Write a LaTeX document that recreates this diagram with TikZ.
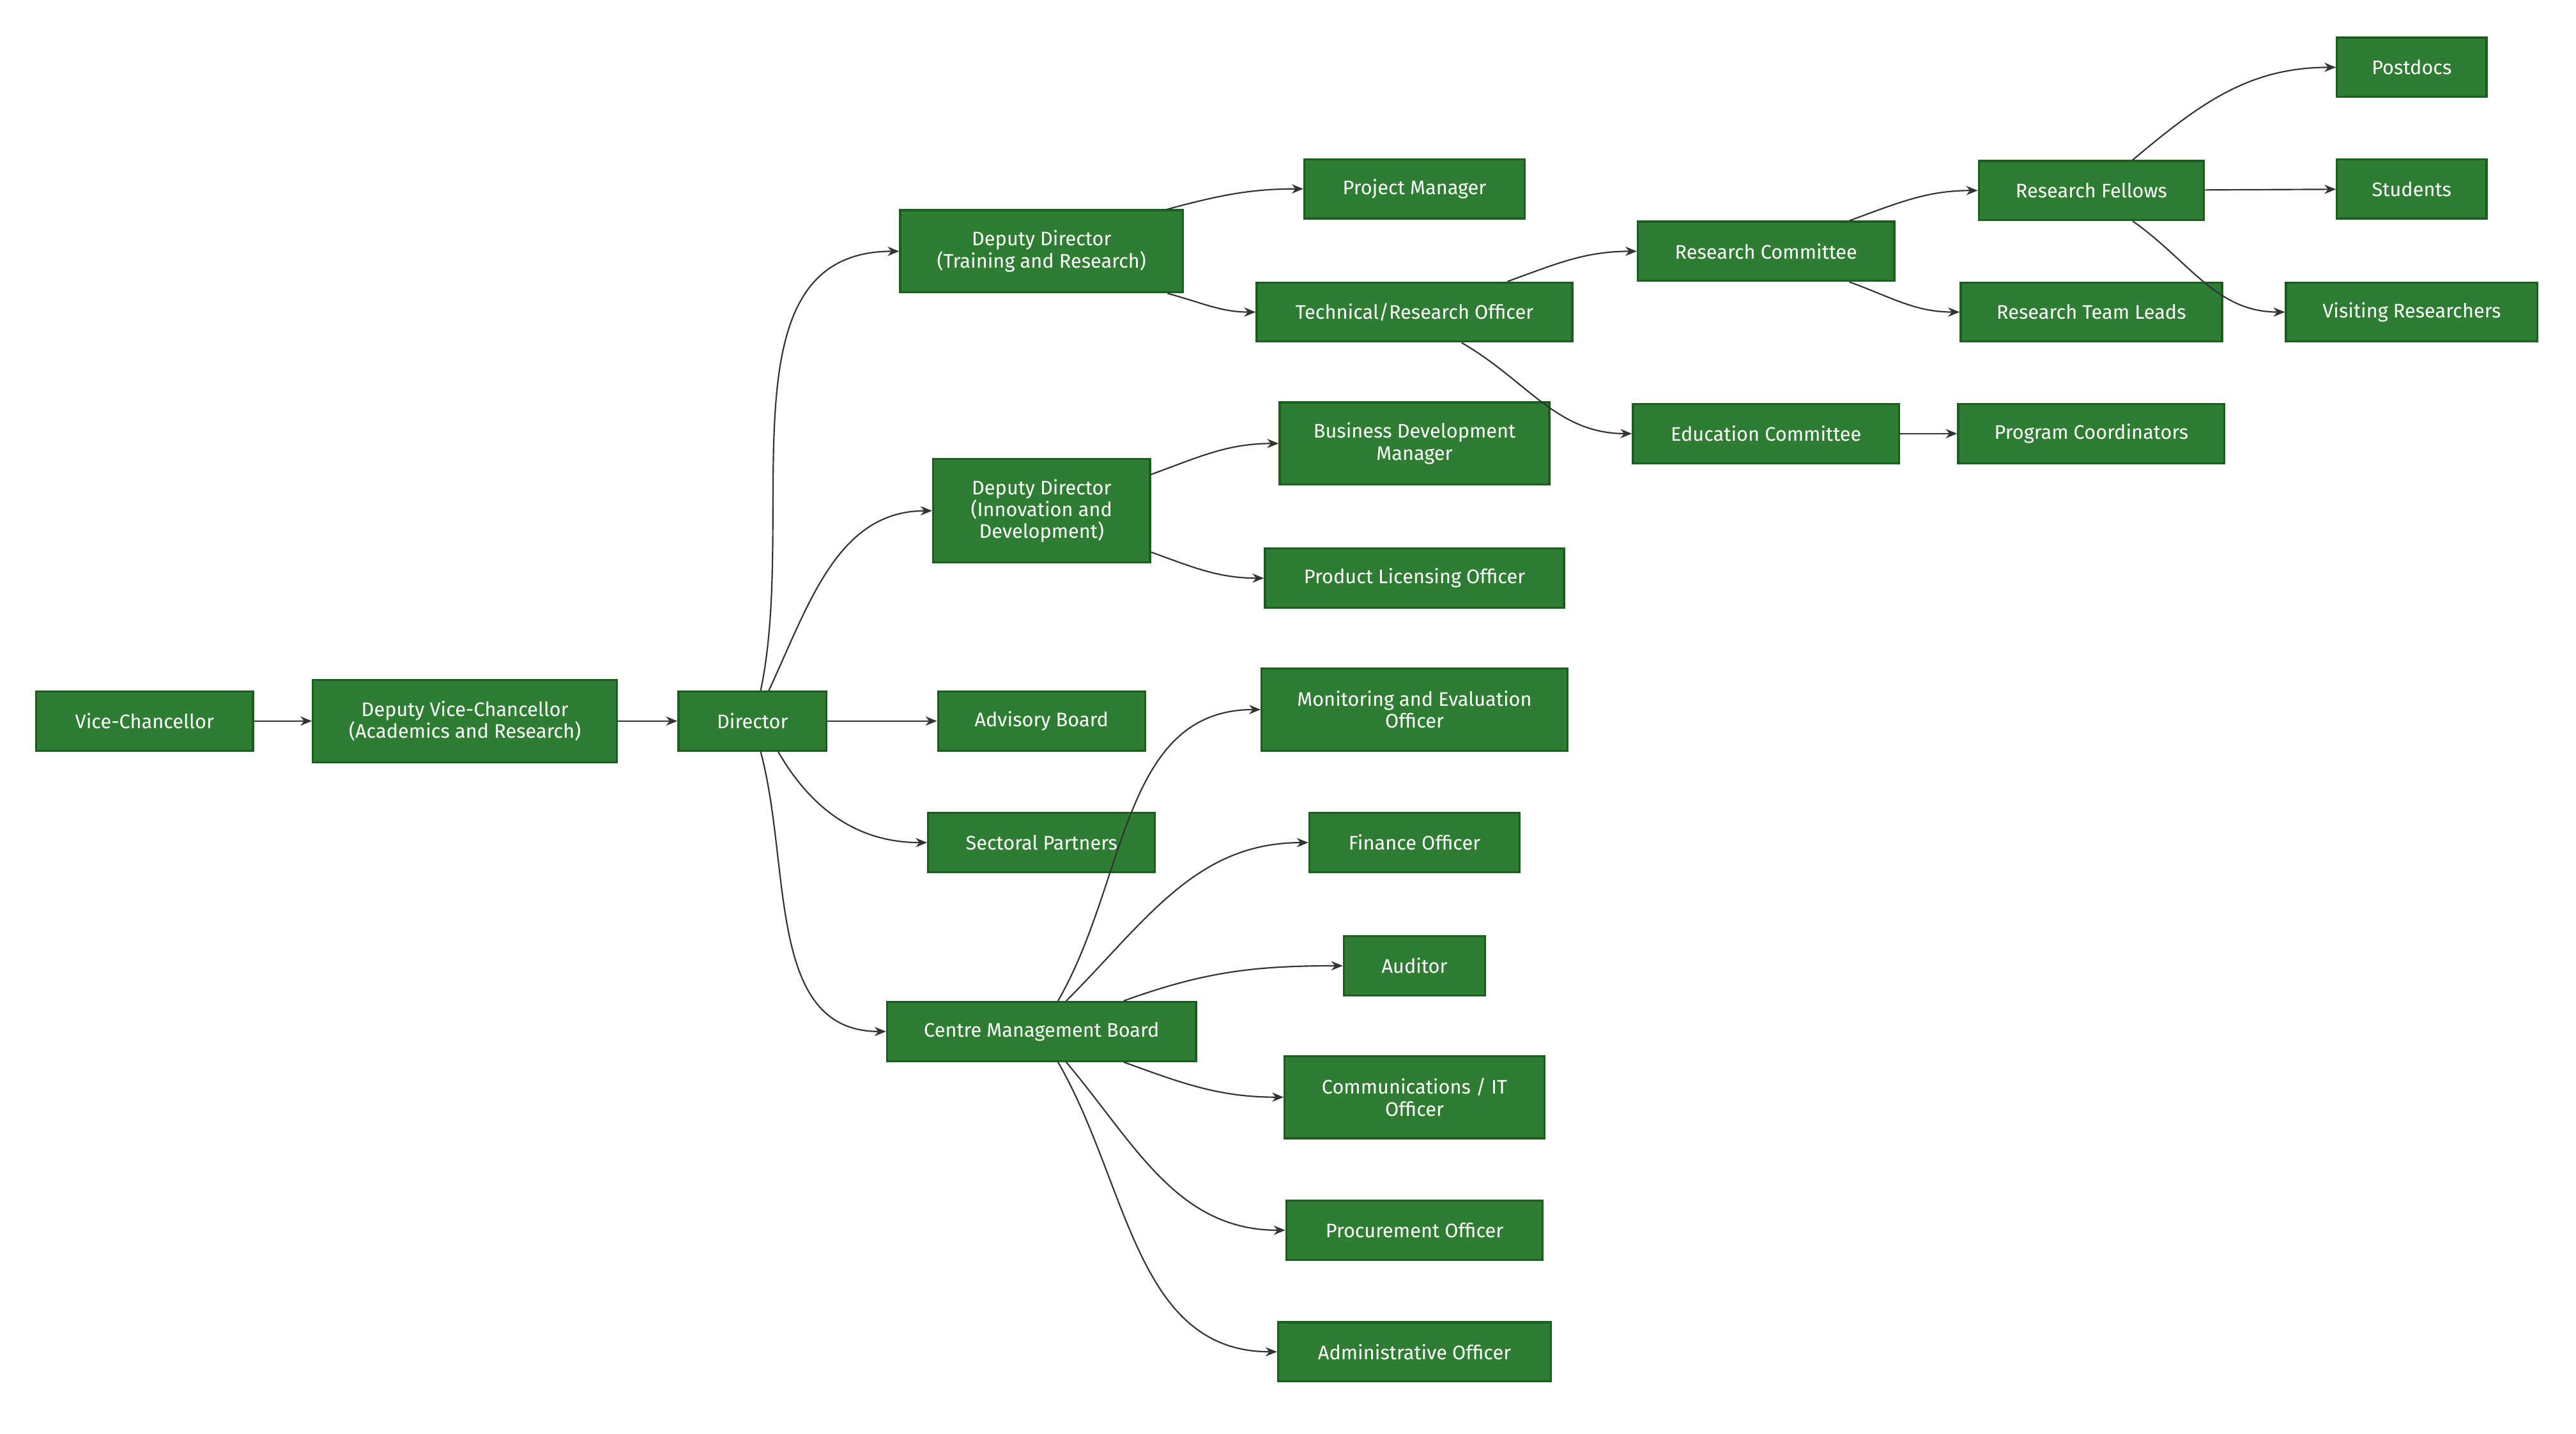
\documentclass[tikz,border=0pt]{standalone}
\usepackage{fontspec}
\setmainfont{Fira Sans}
\usetikzlibrary{arrows.meta,positioning}
\definecolor{boxfill}{HTML}{2E7D32}
\definecolor{boxline}{HTML}{1B5E20}
\definecolor{linkcol}{HTML}{333333}
\tikzset{
    box/.style={rectangle,draw=boxline,fill=boxfill,line width=0.9pt,text=white,
        font=\fontsize{8.5}{9.5}\selectfont,align=center,inner sep=0pt,minimum height=0.9cm},
    tall/.style={minimum height=1.25cm},
    taller/.style={minimum height=1.575cm},
    arr/.style={-{Stealth[length=5pt,width=4pt]},linkcol,line width=0.6pt}
}
\begin{document}
\begin{tikzpicture}[x=0.025cm,y=-0.025cm]
    \useasboundingbox (0,0) rectangle (1568,873);

    \node[box,minimum width=3.3cm]        (vc)   at (88,439)  {Vice-Chancellor};
    \node[box,tall,minimum width=4.625cm] (dvc)  at (283,439) {Deputy Vice-Chancellor\\(Academics and Research)};
    \node[box,minimum width=2.25cm]       (dir)  at (458,439) {Director};

    \node[box,tall,minimum width=4.3cm]   (ddt)  at (634,153) {Deputy Director\\(Training and Research)};
    \node[box,taller,minimum width=3.3cm] (ddi)  at (634,311) {Deputy Director\\(Innovation and\\Development)};
    \node[box,minimum width=3.15cm]       (adv)  at (634,439) {Advisory Board};
    \node[box,minimum width=3.45cm]       (sec)  at (634,513) {Sectoral Partners};
    \node[box,minimum width=4.7cm]        (cmb)  at (634,628) {Centre Management Board};

    \node[box,minimum width=3.35cm]       (pm)   at (861,115) {Project Manager};
    \node[box,minimum width=4.8cm]        (tro)  at (861,190) {Technical/Research Officer};
    \node[box,tall,minimum width=4.1cm]   (bdm)  at (861,270) {Business Development\\Manager};
    \node[box,minimum width=4.55cm]       (plo)  at (861,352) {Product Licensing Officer};
    \node[box,tall,minimum width=4.65cm]  (meo)  at (861,432) {Monitoring and Evaluation\\Officer};
    \node[box,minimum width=3.2cm]        (fin)  at (861,513) {Finance Officer};
    \node[box,minimum width=2.15cm]       (aud)  at (861,588) {Auditor};
    \node[box,tall,minimum width=3.95cm]  (com)  at (861,668) {Communications / IT\\Officer};
    \node[box,minimum width=3.9cm]        (pro)  at (861,749) {Procurement Officer};
    \node[box,minimum width=4.15cm]       (adm)  at (861,823) {Administrative Officer};

    \node[box,minimum width=3.9cm]        (rc)   at (1075,153) {Research Committee};
    \node[box,minimum width=4.05cm]       (ec)   at (1075,264) {Education Committee};

    \node[box,minimum width=3.425cm]      (rf)   at (1273,116) {Research Fellows};
    \node[box,minimum width=3.975cm]      (rtl)  at (1273,190) {Research Team Leads};
    \node[box,minimum width=4.05cm]       (pc)   at (1273,264) {Program Coordinators};

    \node[box,minimum width=2.275cm]      (pd)   at (1468,41)  {Postdocs};
    \node[box,minimum width=2.275cm]      (stu)  at (1468,115) {Students};
    \node[box,minimum width=3.825cm]      (vr)   at (1468,190) {Visiting Researchers};

    % main line
    \draw[arr] (vc) -- (dvc);
    \draw[arr] (dvc) -- (dir);
    \draw[arr] (dir) -- (adv);
    \draw[arr] (dir.north) ++(5,0) to[out=78,in=180] (ddt.west);
    \draw[arr] (dir.north) ++(10,0) to[out=65,in=180] (ddi.west);
    \draw[arr] (dir.south east) ++(-30,0) to[out=-60,in=180] (sec.west);
    \draw[arr] (dir.south) ++(5,0) to[out=-75,in=180] (cmb.west);

    % deputy directors
    \draw[arr] (ddt.north east) ++(-10,0) to[out=15,in=180] (pm.west);
    \draw[arr] (ddt.south east) ++(-10,0) to[out=-15,in=180] (tro.west);
    \draw[arr] (ddi.north east) ++(0,10) to[out=20,in=180] (bdm.west);
    \draw[arr] (ddi.south east) ++(0,-7) to[out=-20,in=180] (plo.west);

    % management board
    \draw[arr] (cmb.north) ++(10,0) to[out=60,in=180] (meo.west);
    \draw[arr] (cmb.north) ++(15,0) to[out=45,in=180] (fin.west);
    \draw[arr] (cmb.north) ++(50,0) to[out=20,in=180] (aud.west);
    \draw[arr] (cmb.south) ++(50,0) to[out=-20,in=180] (com.west);
    \draw[arr] (cmb.south) ++(15,0) to[out=-50,in=180] (pro.west);
    \draw[arr] (cmb.south) ++(10,0) to[out=-60,in=180] (adm.west);

    % research branch
    \draw[arr] (tro.north east) ++(-40,0) to[out=20,in=180] (rc.west);
    \draw[arr] (tro.south east) ++(-68,0) to[out=-30,in=180] (ec.west);
    \draw[arr] (rc.north east) ++(-28,0) to[out=20,in=180] (rf.west);
    \draw[arr] (rc.south east) ++(-28,0) to[out=-20,in=180] (rtl.west);
    \draw[arr] (ec) -- (pc);
    \draw[arr] (rf.north east) ++(-44,0) to[out=40,in=180] (pd.west);
    \draw[arr] (rf) -- (stu);
    \draw[arr] (rf.south east) ++(-44,0) to[out=-35,in=180] (vr.west);
\end{tikzpicture}
\end{document}
